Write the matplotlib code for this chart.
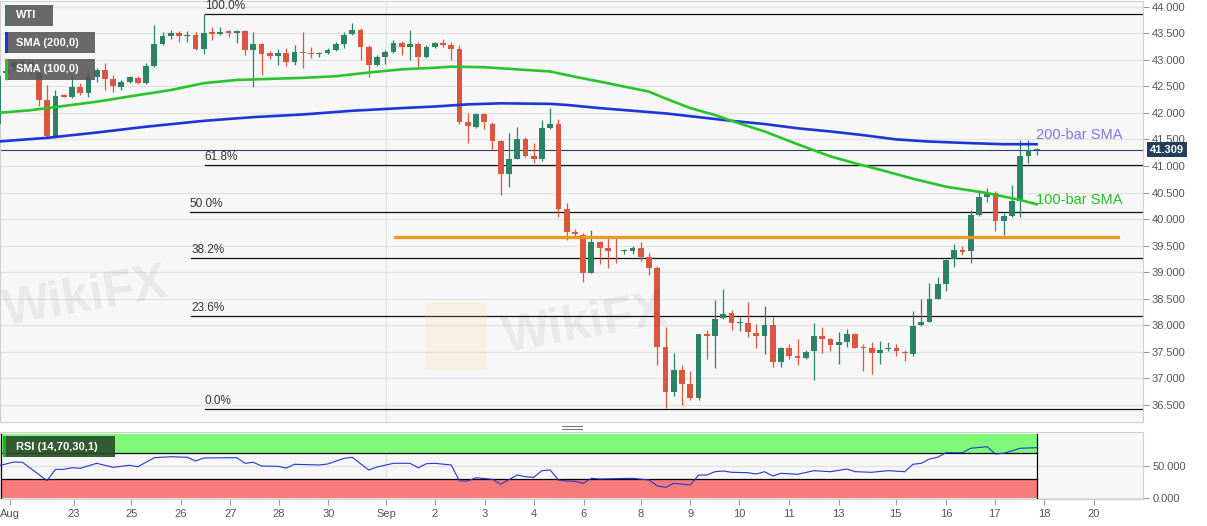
import numpy as np
import matplotlib
matplotlib.use('Agg')
import matplotlib.pyplot as plt
from matplotlib.patches import Rectangle
from matplotlib.lines import Line2D

# 4h candles, WTI
opens = [41.80, 42.76, 42.87, 42.94, 42.96, 42.75, 42.24, 41.56, 42.33, 42.30,
         42.48, 42.38, 42.68, 42.81, 42.64, 42.48, 42.59, 42.66, 42.57, 42.89,
         43.30, 43.45, 43.50, 43.44, 43.47, 43.20, 43.53, 43.48, 43.55, 43.51,
         43.55, 43.18, 43.29, 43.12, 43.08, 43.13, 42.95, 43.15, 43.13, 43.11,
         43.13, 43.18, 43.29, 43.48, 43.56, 43.24, 42.90, 43.05, 43.14, 43.31,
         43.25, 43.29, 43.06, 43.25, 43.31, 43.27, 43.20, 41.83, 41.74, 41.97,
         41.80, 41.47, 40.85, 41.14, 41.50, 41.19, 41.13, 41.72, 41.80, 40.19,
         39.76, 39.70, 38.99, 39.57, 39.45, 39.40, 39.39, 39.40, 39.45, 39.29,
         39.08, 37.60, 36.74, 37.16, 36.89, 36.64, 37.83, 37.79, 38.14, 38.23,
         38.05, 38.05, 37.85, 37.80, 38.00, 37.31, 37.57, 37.43, 37.39, 37.52,
         37.79, 37.74, 37.62, 37.69, 37.83, 37.59, 37.58, 37.47, 37.55, 37.58,
         37.50, 37.46, 38.00, 38.07, 38.50, 38.78, 39.24, 39.42, 39.39, 40.08,
         40.41, 40.50, 39.97, 40.06, 40.34, 41.18, 41.30]
highs = [42.85, 42.90, 43.00, 42.98, 42.98, 42.78, 42.53, 42.43, 42.35, 42.71,
         42.56, 42.75, 42.84, 42.93, 42.71, 42.62, 42.70, 42.70, 42.93, 43.66,
         43.53, 43.57, 43.55, 43.55, 43.52, 43.86, 43.61, 43.62, 43.57, 43.57,
         43.56, 43.53, 43.32, 43.16, 43.20, 43.22, 43.28, 43.53, 43.25, 43.15,
         43.22, 43.34, 43.53, 43.70, 43.59, 43.28, 43.09, 43.18, 43.37, 43.36,
         43.56, 43.34, 43.28, 43.33, 43.39, 43.33, 43.28, 42.00, 41.99, 41.99,
         41.83, 41.48, 41.62, 41.73, 41.54, 41.44, 41.87, 42.09, 41.88, 40.31,
         39.82, 39.73, 39.79, 39.59, 39.65, 39.65, 39.44, 39.50, 39.57, 39.37,
         39.12, 37.97, 37.47, 37.25, 37.13, 37.84, 37.92, 38.48, 38.68, 38.28,
         38.15, 38.44, 38.02, 38.36, 38.16, 37.60, 37.65, 37.74, 37.53, 38.05,
         37.97, 37.76, 37.88, 37.93, 37.85, 37.65, 37.69, 37.71, 37.69, 37.65,
         37.53, 38.26, 38.49, 38.79, 38.90, 39.25, 39.53, 39.49, 40.17, 40.55,
         40.58, 40.53, 40.12, 40.64, 41.48, 41.48, 41.33]
lows = [41.75, 42.62, 42.80, 42.90, 42.70, 42.13, 41.53, 41.53, 42.29, 42.28,
        42.34, 42.30, 42.59, 42.43, 42.40, 42.44, 42.56, 42.55, 42.55, 42.87,
        43.28, 43.40, 43.33, 43.33, 43.18, 43.11, 43.37, 43.46, 43.42, 43.31,
        43.09, 42.48, 42.71, 43.01, 42.90, 42.88, 42.90, 42.84, 43.03, 43.06,
        43.10, 43.17, 43.22, 43.47, 43.00, 42.68, 42.88, 42.92, 43.12, 43.09,
        43.00, 42.87, 43.04, 43.22, 43.25, 43.00, 41.80, 41.43, 41.72, 41.69,
        41.30, 40.45, 40.60, 41.13, 41.17, 41.06, 41.10, 41.69, 40.03, 39.61,
        39.69, 38.81, 38.98, 39.15, 39.07, 39.17, 39.35, 39.35, 39.22, 38.95,
        37.25, 36.44, 36.67, 36.50, 36.59, 36.59, 37.36, 37.19, 38.12, 37.92,
        37.89, 37.77, 37.57, 37.45, 37.22, 37.22, 37.36, 37.25, 37.36, 36.97,
        37.47, 37.52, 37.28, 37.60, 37.57, 37.13, 37.08, 37.28, 37.52, 37.42,
        37.33, 37.42, 37.98, 38.06, 38.50, 38.64, 39.10, 39.32, 39.18, 40.06,
        40.33, 39.78, 39.70, 40.04, 40.03, 41.05, 41.21]
closes = [42.70, 42.79, 42.96, 42.95, 42.90, 42.24, 41.56, 42.32, 42.30, 42.48,
          42.38, 42.68, 42.81, 42.64, 42.51, 42.59, 42.67, 42.57, 42.89, 43.30,
          43.44, 43.50, 43.45, 43.47, 43.20, 43.50, 43.49, 43.53, 43.51, 43.55,
          43.18, 43.29, 43.11, 43.07, 43.13, 42.95, 43.15, 43.13, 43.11, 43.13,
          43.18, 43.29, 43.47, 43.56, 43.25, 42.90, 43.05, 43.14, 43.31, 43.25,
          43.29, 43.06, 43.25, 43.31, 43.27, 43.20, 41.83, 41.76, 41.97, 41.82,
          41.47, 40.85, 41.14, 41.50, 41.19, 41.13, 41.72, 41.80, 40.19, 39.76,
          39.72, 38.99, 39.57, 39.45, 39.40, 39.39, 39.42, 39.46, 39.29, 39.08,
          37.60, 36.75, 37.16, 36.89, 36.64, 37.83, 37.79, 38.12, 38.21, 38.04,
          38.07, 37.88, 37.80, 38.00, 37.31, 37.58, 37.43, 37.39, 37.50, 37.79,
          37.74, 37.62, 37.69, 37.83, 37.58, 37.58, 37.47, 37.53, 37.58, 37.52,
          37.47, 37.99, 38.07, 38.50, 38.78, 39.23, 39.42, 39.38, 40.08, 40.41,
          40.47, 39.96, 40.06, 40.34, 41.18, 41.30, 41.31]

sma200_idx = [0, 6, 12, 18, 25, 31, 37, 43, 49, 53, 57, 61, 67, 69, 73, 77, 81, 85,
              89, 93, 97, 101, 105, 109, 113, 118, 122, 126]
sma200_val = [41.46, 41.53, 41.63, 41.74, 41.85, 41.92, 41.97, 42.04, 42.09, 42.12,
              42.16, 42.18, 42.17, 42.15, 42.09, 42.04, 41.99, 41.92, 41.85, 41.79,
              41.71, 41.65, 41.58, 41.50, 41.46, 41.43, 41.41, 41.41]
sma100_idx = [0, 4, 8, 12, 16, 21, 25, 29, 31, 37, 41, 45, 49, 53, 55, 59, 61, 67,
              70, 73, 79, 81, 84, 87, 89, 93, 97, 101, 104, 107, 111, 115, 120, 124, 126]
sma100_val = [42.00, 42.05, 42.13, 42.21, 42.31, 42.43, 42.56, 42.62, 42.63, 42.66,
              42.69, 42.76, 42.82, 42.85, 42.87, 42.86, 42.84, 42.78, 42.68, 42.59,
              42.40, 42.27, 42.09, 41.96, 41.85, 41.65, 41.41, 41.18, 41.05, 40.93,
              40.76, 40.61, 40.49, 40.36, 40.28]

rsi_idx = [0, 2, 3, 6, 7, 8, 9, 10, 12, 14, 16, 17, 19, 21, 23, 24, 25, 29, 30, 31,
           32, 34, 35, 36, 39, 40, 42, 43, 45, 46, 48, 50, 51, 52, 53, 55, 56, 57, 58, 60,
           61, 63, 64, 65, 66, 67, 68, 69, 70, 71, 72, 73, 77, 79, 80, 81, 82, 84, 85, 86,
           87, 88, 89, 91, 92, 93, 94, 95, 97, 99, 101, 103, 104, 106, 108, 110, 111, 112, 113, 114,
           115, 117, 118, 120, 121, 122, 124, 126]
rsi_val = [50.0, 56.3, 55.8, 27.0, 44.8, 44.8, 47.3, 46.4, 54.2, 48.0, 51.1, 48.9, 63.0, 64.5, 63.6, 57.8, 62.5, 63.0, 54.2, 55.8,
           50.0, 49.5, 46.9, 52.7, 51.6, 53.1, 62.0, 63.6, 43.8, 48.4, 54.2, 54.2, 47.3, 53.6, 54.2, 51.6, 26.6, 26.6, 31.7, 29.2,
           21.4, 35.9, 33.3, 32.3, 42.7, 43.8, 28.1, 26.6, 26.0, 23.0, 30.8, 29.7, 30.8, 28.1, 18.8, 16.7, 23.0, 20.3, 35.9, 35.9,
           41.1, 42.2, 40.2, 39.5, 37.5, 41.1, 34.4, 38.6, 37.0, 42.7, 41.1, 45.3, 41.1, 40.2, 42.7, 41.1, 52.7, 54.2, 60.9, 63.6,
           70.8, 70.8, 77.7, 80.2, 68.8, 69.8, 77.7, 78.6]

fib_labels = ['100.0%', '61.8%', '50.0%', '38.2%', '23.6%', '0.0%']
fib_prices = [43.86, 41.02, 40.14, 39.26, 38.18, 36.42]
fib_start = [25.1, 25.1, 23.3, 23.5, 23.5, 25.1]

support_level = 39.67
last_price = 41.309

tick_pos = [1.5, 9.25, 16.2, 22.2, 28.2, 34.1, 40.1, 47.1, 53.0, 59.1, 65.0, 71.1,
            78.0, 84.0, 89.9, 96.0, 102.0, 108.9, 115.0, 120.9, 126.9, 132.9]
tick_lab = ['Aug', '23', '25', '26', '27', '28', '30', 'Sep', '2', '3', '4', '6',
            '8', '9', '10', '11', '13', '15', '16', '17', '18', '20']

W, H = 1207, 526
plt.rcParams['font.family'] = ['Liberation Sans', 'DejaVu Sans']
fig = plt.figure(figsize=(W / 100, H / 100), dpi=100)
ax = fig.add_axes([0, 1 - 422.3 / H, 1143 / W, 421.3 / H])
axr = fig.add_axes([0, 1 - 499.3 / H, 1143 / W, 67.6 / H], sharex=ax)

xlo, xhi = 0.279, 138.9
green, red = '#2b8468', '#d9563f'

for a in (ax, axr):
    a.set_facecolor('#f7f7f7')
    for s in a.spines.values():
        s.set_color('#d0d0d0')
    a.axvline(47.1, color='#e2e2e2', lw=0.9, zorder=0)

# candles
o, h, l, c = map(np.array, (opens, highs, lows, closes))
idx = np.arange(len(o))
cols = np.where(c >= o, green, red)
ax.vlines(idx, l, h, color=cols, lw=0.9, zorder=3)
ax.bar(idx, np.maximum(np.abs(c - o), 0.012), bottom=np.minimum(o, c), width=0.7,
       color=cols, linewidth=0, zorder=4)

ax.plot(sma200_idx, sma200_val, color='#1c35d6', lw=1.9, zorder=5, solid_joinstyle='round')
ax.plot(sma100_idx, sma100_val, color='#2ac42a', lw=1.9, zorder=5, solid_joinstyle='round')
ax.plot([48.2, 135.9], [support_level, support_level], color='#f5961f', lw=2.3, zorder=6)

for lab, p, st in zip(fib_labels, fib_prices, fib_start):
    ax.plot([st, xhi], [p, p], color='#111111', lw=0.9, zorder=2)
    ax.annotate(lab, (st, p), xytext=(0, 1.5), textcoords='offset points',
                fontsize=8.5, color='#333333', va='bottom', ha='left')

ax.axhline(last_price, color='#2a4360', lw=0.8, zorder=2)
ax.annotate(f'{last_price:.3f}', xy=(1, last_price), xycoords=('axes fraction', 'data'),
            xytext=(5, 0), textcoords='offset points', va='center', ha='left',
            color='white', fontsize=8, fontweight='bold', annotation_clip=False,
            bbox=dict(boxstyle='square,pad=0.25', fc='#243d5c', ec='none'))

ax.text(125.9, 41.58, '200-bar SMA', color='#7b78e6', fontsize=10.5, va='center', zorder=7)
ax.text(125.9, 40.35, '100-bar SMA', color='#25c025', fontsize=10.5, va='center', zorder=7)

ax.set_xlim(xlo, xhi)
ax.set_ylim(36.173, 44.107)
ax.yaxis.tick_right()
yt = [36.5, 37.0, 37.5, 38.0, 38.5, 39.0, 39.5, 40.0, 40.5, 41.0, 41.5, 42.0, 42.5, 43.0, 43.5, 44.0]
ax.set_yticks(yt)
ax.set_yticklabels([f'{v:.3f}' for v in yt])
ax.tick_params(axis='y', length=4, color='#999999', labelcolor='#555555', labelsize=8, pad=2)
ax.tick_params(axis='x', bottom=False, labelbottom=False)
ax.grid(axis='y', color='#e2e2e2', lw=0.9)
ax.set_axisbelow(True)

# RSI panel
axr.fill_between([xlo, 126], 70, 100, color='#80f97a', lw=0, zorder=1)
axr.fill_between([xlo, 126], 0, 30, color='#f97c7c', lw=0, zorder=1)
axr.plot([xlo, 126], [70, 70], color='black', lw=0.9, zorder=2)
axr.plot([xlo, 126], [30, 30], color='black', lw=0.9, zorder=2)
axr.plot([126, 126], [0, 100], color='black', lw=0.9, zorder=2)
axr.plot([xlo + 0.1, xlo + 0.1], [0, 100], color='black', lw=0.9, zorder=2)
axr.plot(rsi_idx, rsi_val, color='#2436d0', lw=0.8, zorder=4)
axr.set_ylim(-2.03, 103.6)
axr.yaxis.tick_right()
axr.set_yticks([0, 50])
axr.set_yticklabels(['0.000', '50.000'])
axr.grid(axis='y', color='#e2e2e2', lw=0.9)
axr.set_axisbelow(True)
axr.set_xticks(tick_pos)
axr.set_xticklabels(tick_lab)
axr.tick_params(length=4, color='#999999', labelcolor='#555555', labelsize=8, pad=3)
axr.set_xlim(xlo, xhi)


def label_box(x, y, w, hh, fc, bar, text, alpha=0.88):
    fig.add_artist(Rectangle((x / W, 1 - (y + hh) / H), w / W, hh / H,
                             transform=fig.transFigure, fc=fc, ec='none', alpha=alpha, zorder=10))
    fig.add_artist(Rectangle((x / W, 1 - (y + hh) / H), 2.5 / W, hh / H,
                             transform=fig.transFigure, fc=bar, ec='none', zorder=11))
    fig.text(16 / W, 1 - (y + hh / 2) / H, text, color='white', fontsize=8,
             fontweight='bold', va='center', ha='left', zorder=12)


label_box(5, 5, 48, 21, '#555555', '#2b8468', 'WTI')
label_box(5, 32, 90, 21, '#555555', '#1c35d6', 'SMA (200,0)')
label_box(5, 59, 90, 21, '#555555', '#2ac42a', 'SMA (100,0)')
label_box(3, 436, 112, 21, '#2b4f2b', '#1db31d', 'RSI (14,70,30,1)', alpha=0.92)

# faint watermarks
fig.text(0 / W, 1 - 298 / H, 'WikiFX', fontsize=36, fontweight='bold', color='black',
         alpha=0.06, rotation=10, va='center', ha='left')
fig.text(500 / W, 1 - 325 / H, 'WikiFX', fontsize=36, fontweight='bold', color='black',
         alpha=0.06, rotation=10, va='center', ha='left')
fig.add_artist(Rectangle((425 / W, 1 - 370 / H), 62 / W, 68 / H, transform=fig.transFigure,
                         fc='#f3d98a', ec='none', alpha=0.18, zorder=0.5))

# panel separator handle
for yy in (425.5, 428.5):
    fig.add_artist(Line2D([562 / W, 582 / W], [1 - yy / H] * 2, color='#777777', lw=0.8))

fig.savefig('out.png', dpi=100)
